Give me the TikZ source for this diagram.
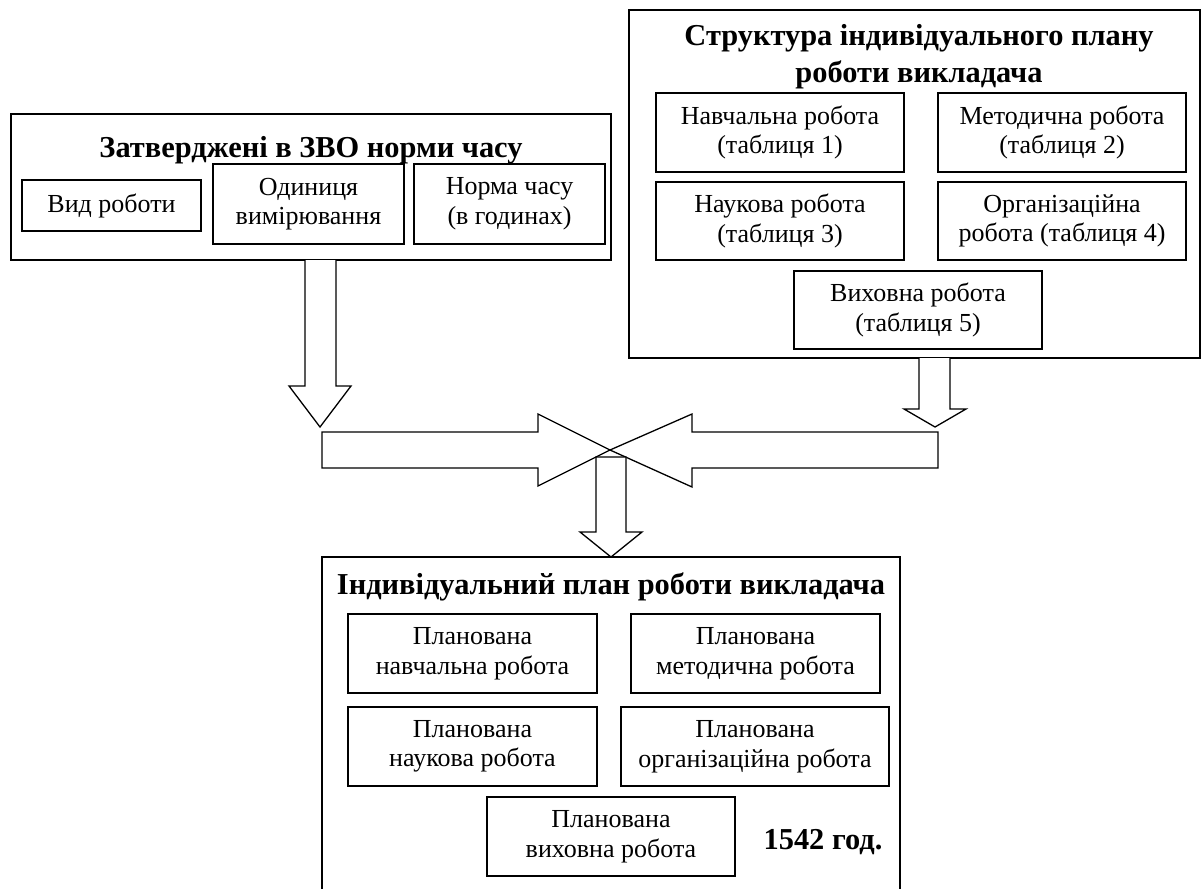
\documentclass[tikz,border=0pt]{standalone}
\usepackage{fontspec}
\setmainfont{Liberation Serif}
\begin{document}
\begin{tikzpicture}[x=0.5pt,y=-0.5pt,
  outer/.style={draw, line width=1pt, inner sep=0pt},
  box/.style={draw, line width=0.8pt, inner sep=0pt, align=center,
    font=\fontsize{13}{14.75}\selectfont},
  ttl/.style={inner sep=0pt, align=center, font=\fontsize{15.2}{18.5}\selectfont\bfseries},
  blk/.style={draw, line width=0.65pt, fill=white, line join=miter}]
\clip (0,0) rectangle (1202,888);
\fill[white] (0,0) rectangle (1202,888);

% left container
\node[outer, minimum width=300pt, minimum height=73pt] (norms) at (311,187) {};
\node[ttl] (normsT) at (311,150) {Затверджені в ЗВО норми часу};
\node[box, minimum width=89.5pt, minimum height=25.5pt] (vid) at (111.5,205.5) {Вид роботи};
\node[box, minimum width=95.5pt, minimum height=40pt] (odyn) at (308.5,204) {Одиниця\\вимірювання};
\node[box, minimum width=95.5pt, minimum height=40pt] (norma) at (509.5,204) {Норма часу\\(в годинах)};

% right container
\node[outer, minimum width=285.5pt, minimum height=174pt] (struct) at (914.5,184) {};
\node[ttl] (structT) at (919,57) {Структура індивідуального плану\\роботи викладача};
\node[box, minimum width=124pt, minimum height=39.5pt] (s1) at (780,132.5) {Навчальна робота\\(таблиця 1)};
\node[box, minimum width=124pt, minimum height=39.5pt] (s2) at (1062,132.5) {Методична робота\\(таблиця 2)};
\node[box, minimum width=124pt, minimum height=39pt] (s3) at (780,221) {Наукова робота\\(таблиця 3)};
\node[box, minimum width=124pt, minimum height=39pt] (s4) at (1062,221) {Організаційна\\робота (таблиця 4)};
\node[box, minimum width=124pt, minimum height=39pt] (s5) at (918,310) {Виховна робота\\(таблиця 5)};

% bottom container
\node[outer, minimum width=289pt, minimum height=171.5pt] (plan) at (611,728.5) {};
\node[ttl] (planT) at (611,587) {Індивідуальний план роботи викладача};
\node[box, minimum width=124.5pt, minimum height=39.5pt] (p1) at (472.5,653.5) {Планована\\навчальна робота};
\node[box, minimum width=124.5pt, minimum height=39.5pt] (p2) at (755.5,653.5) {Планована\\методична робота};
\node[box, minimum width=124.5pt, minimum height=39.5pt] (p3) at (472.5,746.5) {Планована\\наукова робота};
\node[box, minimum width=134pt, minimum height=39.5pt] (p4) at (755,746.5) {Планована\\організаційна робота};
\node[box, minimum width=124pt, minimum height=39.5pt] (p5) at (611,836.5) {Планована\\виховна робота};
\node[ttl] (total) at (823,842) {1542 год.};

% block arrows
\draw[blk] (305,260) -- (305,386) -- (289,386) -- (320,427) -- (351,386) -- (336,386) -- (336,260);
\draw[blk] (919,358) -- (919,409) -- (904,409) -- (935,427) -- (966,409) -- (950,409) -- (950,358);
\draw[blk] (322,432) -- (538,432) -- (538,414) -- (610,450) -- (538,486) -- (538,468) -- (322,468) -- cycle;
\draw[blk] (938,432) -- (692,432) -- (692,414) -- (610,450) -- (692,487) -- (692,468) -- (938,468) -- cycle;
\draw[blk] (596,457) -- (596,532) -- (580,532) -- (611,557) -- (642,532) -- (626,532) -- (626,457) -- cycle;
\end{tikzpicture}
\end{document}
